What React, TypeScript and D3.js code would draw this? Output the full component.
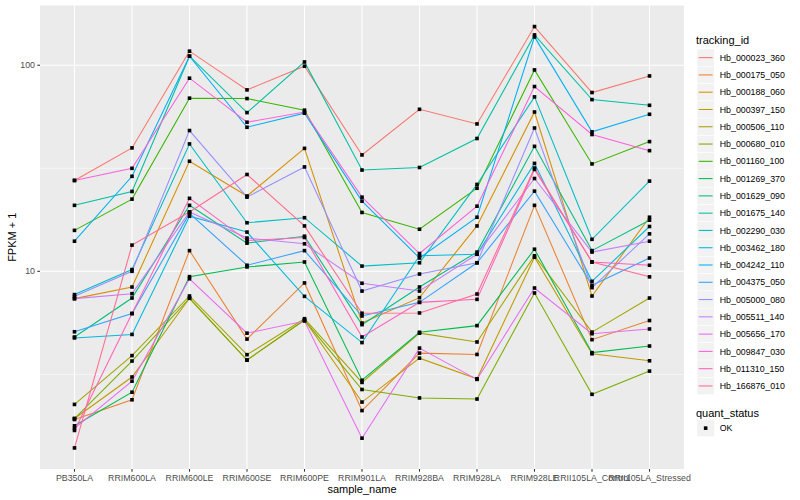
import * as d3 from 'd3';

const SAMPLES = [
  'PB350LA', 'RRIM600LA', 'RRIM600LE', 'RRIM600SE', 'RRIM600PE', 'RRIM901LA',
  'RRIM928BA', 'RRIM928LA', 'RRIM928LE', 'RRII105LA_Control', 'RRII105LA_Stressed',
];

const TRACKING_IDS = [
  'Hb_000023_360', 'Hb_000175_050', 'Hb_000188_060', 'Hb_000397_150', 'Hb_000506_110',
  'Hb_000680_010', 'Hb_001160_100', 'Hb_001269_370', 'Hb_001629_090', 'Hb_001675_140',
  'Hb_002290_030', 'Hb_003462_180', 'Hb_004242_110', 'Hb_004375_050', 'Hb_005000_080',
  'Hb_005511_140', 'Hb_005656_170', 'Hb_009847_030', 'Hb_011310_150', 'Hb_166876_010',
];

// ggplot hue palette, 20 levels
const COLORS = [
  '#F8766D', '#EA8331', '#D89000', '#C09B00', '#A3A500', '#7CAE00', '#39B600', '#00BB4E',
  '#00BF7D', '#00C1A3', '#00BFC4', '#00BAE0', '#00B0F6', '#35A2FF', '#9590FF', '#C77CFF',
  '#E76BF3', '#FA62DB', '#FF62BC', '#FF6C91',
];

// FPKM + 1 per sample, same order as SAMPLES
const hb000023 = [27.6, 39.7, 117, 75.9, 98.9, 36.7, 61.1, 51.9, 154, 73.7, 88.7];
const hb000175 = [1.91, 2.38, 12.6, 4.69, 8.78, 2.11, 4.01, 3.95, 20.9, 4.66, 5.77];
const hb000188 = [7.37, 8.39, 34.2, 23.2, 39.5, 5.61, 7.45, 16.6, 59.3, 7.59, 18.3];
const hb000397 = [1.93, 3.07, 7.4, 3.71, 5.8, 2.32, 3.79, 3.01, 11.7, 3.98, 3.68];
const hb000506 = [2.26, 3.9, 7.59, 3.94, 5.89, 2.89, 5.01, 4.54, 11.9, 5.07, 7.42];
const hb000680 = [1.93, 3.67, 7.4, 3.71, 5.8, 2.67, 2.43, 2.4, 7.85, 2.53, 3.28];
const hb001160 = [15.8, 22.4, 69.2, 68.9, 60.5, 19.3, 16.0, 25.3, 94.9, 33.2, 42.6];
const hb001269 = [1.78, 2.59, 9.42, 10.5, 11.1, 2.96, 5.06, 5.45, 12.8, 4.03, 4.34];
const hb001629 = [4.8, 7.42, 20.9, 13.7, 14.8, 5.51, 8.39, 12.4, 40.4, 12.6, 17.7];
const hb001675 = [20.9, 24.4, 110.6, 58.9, 103.7, 31.0, 31.9, 44.1, 140.3, 68.1, 63.9];
const hb002290 = [7.71, 10.2, 41.5, 17.2, 18.2, 10.6, 11.0, 26.4, 70.2, 14.3, 27.4];
const hb003462 = [4.75, 4.94, 18.5, 15.5, 7.56, 4.51, 11.9, 12.1, 33.4, 8.94, 16.5];
const hb004242 = [14.0, 28.9, 110.6, 50.0, 58.5, 21.9, 11.6, 18.3, 137.2, 47.5, 57.8];
const hb004375 = [5.09, 6.24, 19.1, 10.7, 12.6, 6.07, 7.07, 11.0, 24.5, 8.55, 11.6];
const hb005000 = [7.56, 10.0, 48.2, 22.9, 32.1, 8.02, 9.7, 11.0, 49.6, 8.33, 15.2];
const hb005511 = [7.37, 7.79, 19.4, 14.5, 13.6, 8.75, 8.02, 12.1, 28.2, 12.4, 14.0];
const hb005656 = [1.73, 2.93, 9.2, 5.01, 5.74, 1.55, 4.24, 2.99, 8.3, 4.98, 5.25];
const hb009847 = [27.6, 31.6, 86.5, 52.9, 59.3, 22.9, 12.2, 20.7, 78.8, 46.1, 38.5];
const hb011310 = [1.69, 6.24, 22.6, 14.1, 14.6, 4.8, 7.07, 7.31, 31.2, 11.1, 10.7];
const hb166876 = [1.39, 13.4, 19.4, 29.5, 16.6, 6.26, 6.28, 7.76, 31.7, 11.1, 9.4];

const SERIES = [
  hb000023, hb000175, hb000188, hb000397, hb000506, hb000680, hb001160, hb001269,
  hb001629, hb001675, hb002290, hb003462, hb004242, hb004375, hb005000, hb005511,
  hb005656, hb009847, hb011310, hb166876,
];

const Y_BREAKS = [10, 100];

const FONT = '"Liberation Sans", Arial, Helvetica, sans-serif';

const W = 800;
const H = 500;
const panel = { left: 40, right: 684, top: 5.5, bottom: 469 };

export default function App() {
  const x = d3.scalePoint<string>().domain(SAMPLES).range([panel.left, panel.right]).padding(0.6);

  // log scale with ggplot's 5% expansion
  const all = SERIES.flat();
  const lo = Math.log10(d3.min(all)!);
  const hi = Math.log10(d3.max(all)!);
  const pad = (hi - lo) * 0.05;
  const y = d3.scaleLog()
    .domain([10 ** (lo - pad), 10 ** (hi + pad)])
    .range([panel.bottom, panel.top]);

  const minor = [10 ** 0.5, 10 ** 1.5, 10 ** 2.5].filter(v => y(v) > panel.top && y(v) < panel.bottom);

  const line = d3.line<number>()
    .x((_d, i) => x(SAMPLES[i])!)
    .y(d => y(d));

  const keySize = 17.28;
  const legendX = 697;
  const keysTop = 49;
  const qsTop = 419.5;

  return (
    <svg width={W} height={H} style={{ position: 'absolute', left: 0, top: 0, background: '#fff' }} fontFamily={FONT}>
      <rect x={panel.left} y={panel.top} width={panel.right - panel.left} height={panel.bottom - panel.top} fill="#EBEBEB" />
      {/* grid */}
      {minor.map(v => (
        <line key={'mn' + v} x1={panel.left} x2={panel.right} y1={y(v)} y2={y(v)} stroke="#fff" strokeWidth={0.53} />
      ))}
      {Y_BREAKS.map(v => (
        <line key={'mj' + v} x1={panel.left} x2={panel.right} y1={y(v)} y2={y(v)} stroke="#fff" strokeWidth={1.07} />
      ))}
      {SAMPLES.map(s => (
        <line key={'vx' + s} x1={x(s)} x2={x(s)} y1={panel.top} y2={panel.bottom} stroke="#fff" strokeWidth={1.07} />
      ))}

      {/* series */}
      {SERIES.map((vals, i) => (
        <path key={TRACKING_IDS[i]} d={line(vals)!} fill="none" stroke={COLORS[i]} strokeWidth={1.07} />
      ))}
      {SERIES.map((vals, i) =>
        vals.map((v, j) => (
          <rect key={TRACKING_IDS[i] + j} x={x(SAMPLES[j])! - 1.8} y={y(v) - 1.8} width={3.6} height={3.6} fill="#000" />
        ))
      )}

      {/* y axis */}
      {Y_BREAKS.map(v => (
        <g key={'yt' + v}>
          <line x1={panel.left - 2.7} x2={panel.left} y1={y(v)} y2={y(v)} stroke="#333" strokeWidth={1.07} />
          <text x={panel.left - 5} y={y(v) + 3.1} textAnchor="end" fontSize={8.8} fill="#4D4D4D">{v}</text>
        </g>
      ))}
      <text transform={`translate(16,${(panel.top + panel.bottom) / 2}) rotate(-90)`} textAnchor="middle" fontSize={11} fill="#000">FPKM + 1</text>

      {/* x axis */}
      {SAMPLES.map(s => (
        <g key={'xt' + s}>
          <line x1={x(s)} x2={x(s)} y1={panel.bottom} y2={panel.bottom + 2.7} stroke="#333" strokeWidth={1.07} />
          <text x={x(s)} y={panel.bottom + 11.5} textAnchor="middle" fontSize={8.8} fill="#4D4D4D">{s}</text>
        </g>
      ))}
      <text x={(panel.left + panel.right) / 2} y={492.5} textAnchor="middle" fontSize={11} fill="#000">sample_name</text>

      {/* legend: tracking_id */}
      <text x={legendX - 1} y={44} fontSize={11} fill="#000">tracking_id</text>
      {TRACKING_IDS.map((id, i) => {
        const ky = keysTop + i * keySize;
        return (
          <g key={'lg' + id}>
            <rect x={legendX} y={ky} width={keySize} height={keySize} fill="#F2F2F2" stroke="#fff" strokeWidth={0.5} />
            <line x1={legendX + 1.7} x2={legendX + keySize - 1.7} y1={ky + keySize / 2} y2={ky + keySize / 2} stroke={COLORS[i]} strokeWidth={1.07} />
            <text x={legendX + keySize + 5.5} y={ky + keySize / 2 + 3.1} fontSize={8.8} fill="#000">{id}</text>
          </g>
        );
      })}

      {/* legend: quant_status */}
      <text x={legendX - 1} y={416.5} fontSize={11} fill="#000">quant_status</text>
      <rect x={legendX} y={qsTop} width={keySize} height={keySize} fill="#F2F2F2" stroke="#fff" strokeWidth={0.5} />
      <rect x={legendX + keySize / 2 - 1.8} y={qsTop + keySize / 2 - 1.8} width={3.6} height={3.6} fill="#000" />
      <text x={legendX + keySize + 5.5} y={qsTop + keySize / 2 + 3.1} fontSize={8.8} fill="#000">OK</text>
    </svg>
  );
}
